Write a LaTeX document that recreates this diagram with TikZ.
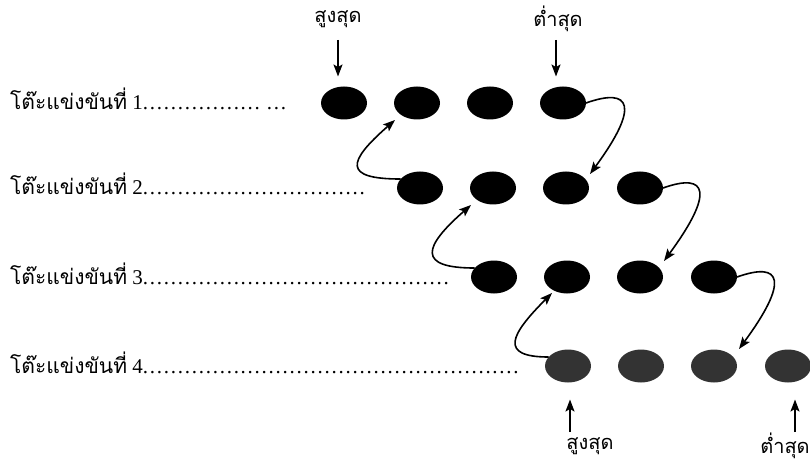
\documentclass[tikz,border=0pt]{standalone}
\usepackage{fontspec}
\setmainfont{Liberation Serif}
\newfontfamily\thai[Script=Thai]{Loma}
\newfontfamily\dotf[LetterSpace=8.3]{Liberation Serif}
\usetikzlibrary{arrows.meta,shapes.geometric,calc}
\tikzset{
  disc/.style={ellipse,fill=black,draw=none,minimum width=46pt,minimum height=33pt,inner sep=0pt,outer sep=0pt},
  discg/.style={disc,fill=black!80},
  arr/.style={line width=1.6pt,-{Stealth[length=12pt,width=9pt,inset=2.5pt]}},
  rowlab/.style={anchor=base west,inner sep=0pt,font=\fontsize{21}{23}\selectfont},
  toplab/.style={inner sep=0pt,font=\thai\fontsize{20}{22}\selectfont}
}
\begin{document}
\begin{tikzpicture}[x=1pt,y=-1pt]
\useasboundingbox (0,0) rectangle (810,462);
% discs
\node[disc] (e11) at (344,103) {};
\node[disc] (e12) at (417,103) {};
\node[disc] (e13) at (490,103) {};
\node[disc] (e14) at (563,103) {};
\node[disc] (e21) at (420,188) {};
\node[disc] (e22) at (493,188) {};
\node[disc] (e23) at (566,188) {};
\node[disc] (e24) at (640,188) {};
\node[disc] (e31) at (494,277) {};
\node[disc] (e32) at (567,277) {};
\node[disc] (e33) at (640,277) {};
\node[disc] (e34) at (714,277) {};
\node[discg] (e41) at (568,366) {};
\node[discg] (e42) at (641,366) {};
\node[discg] (e43) at (714,366) {};
\node[discg] (e44) at (788,366) {};
% row labels
\node[rowlab] (l1) at (10,110) {{\thai โต๊ะแข่งขันที่} 1{\dotf.................} {\dotf...}};
\node[rowlab] (l2) at (10,195) {{\thai โต๊ะแข่งขันที่} 2{\dotf................................}};
\node[rowlab] (l3) at (10,284) {{\thai โต๊ะแข่งขันที่} 3{\dotf............................................}};
\node[rowlab] (l4) at (10,373) {{\thai โต๊ะแข่งขันที่} 4{\dotf......................................................}};
% top labels
\node[toplab] (t1) at (338,19) {สูงสุด};
\node[toplab] (t2) at (558,19) {ต่ำสุด};
\coordinate (ta1) at (338,40);
\coordinate (ta2) at (556,40);
\draw[arr,shorten >=10pt] (ta1) -- (ta1 |- e11.north);
\draw[arr,shorten >=10pt] (ta2) -- (ta2 |- e14.north);
% bottom labels
\node[toplab] (b1) at (590,446) {สูงสุด};
\node[toplab] (b2) at (785,446) {ต่ำสุด};
\coordinate (ba1) at (570,432);
\coordinate (ba2) at (795,432);
\draw[arr,shorten >=17pt] (ba1) -- (ba1 |- e41.south);
\draw[arr,shorten >=17pt] (ba2) -- (ba2 |- e44.south);
% curved connectors
\draw[arr] (e14.east) .. controls +(45,-16) and +(50,-68) .. ($(e23.center)+(24,-14)$);
\draw[arr] (e24.east) .. controls +(45,-16) and +(50,-68) .. ($(e33.center)+(24,-16)$);
\draw[arr] (e34.east) .. controls +(45,-16) and +(50,-68) .. ($(e43.center)+(25,-17)$);
\draw[arr] (e21.155) .. controls +(-58,0) and +(-48,42) .. ($(e12.center)+(-22,17)$);
\draw[arr] (e31.155) .. controls +(-58,0) and +(-48,42) .. ($(e22.center)+(-22,17)$);
\draw[arr] (e41.155) .. controls +(-50,0) and +(-42,42) .. ($(e32.center)+(-15,16)$);
\end{tikzpicture}
\end{document}
